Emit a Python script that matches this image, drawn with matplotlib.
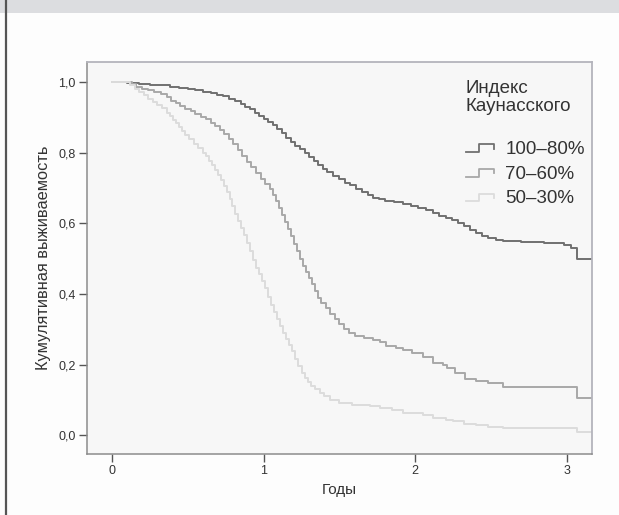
import matplotlib
matplotlib.use("Agg")
import matplotlib.pyplot as plt
from matplotlib.lines import Line2D
from matplotlib.patches import Rectangle
from matplotlib.legend_handler import HandlerBase

plt.rcParams['font.family'] = ['Liberation Sans', 'DejaVu Sans']

# ---- data (years, cumulative survival) ----
t_high = [0.00, 0.10, 0.18, 0.25, 0.32, 0.38, 0.44, 0.50, 0.55, 0.60, 0.65, 0.69,
          0.73, 0.77, 0.81, 0.85, 0.88, 0.91, 0.94, 0.97, 1.00, 1.03, 1.06, 1.09,
          1.12, 1.15, 1.18, 1.21, 1.24, 1.27, 1.30, 1.33, 1.36, 1.39, 1.42, 1.46,
          1.50, 1.54, 1.57, 1.61, 1.65, 1.69, 1.72, 1.76, 1.80, 1.86, 1.92, 1.97,
          2.02, 2.07, 2.12, 2.16, 2.20, 2.24, 2.28, 2.32, 2.36, 2.40, 2.44, 2.48,
          2.53, 2.58, 2.70, 2.85, 2.98, 3.03, 3.07, 3.17]
s_high = [1.000, 0.998, 0.996, 0.993, 0.991, 0.988, 0.985, 0.981, 0.977, 0.973, 0.969, 0.965,
          0.960, 0.954, 0.947, 0.939, 0.931, 0.923, 0.914, 0.905, 0.896, 0.888, 0.879, 0.868,
          0.856, 0.843, 0.831, 0.820, 0.810, 0.800, 0.789, 0.777, 0.765, 0.755, 0.745, 0.735,
          0.725, 0.716, 0.708, 0.699, 0.690, 0.680, 0.672, 0.668, 0.665, 0.660, 0.655, 0.650,
          0.645, 0.638, 0.630, 0.622, 0.616, 0.610, 0.601, 0.592, 0.582, 0.573, 0.565, 0.559,
          0.553, 0.549, 0.547, 0.545, 0.540, 0.530, 0.500, 0.500]

t_mid = [0.00, 0.13, 0.16, 0.20, 0.24, 0.28, 0.32, 0.36, 0.39, 0.42, 0.45, 0.48,
         0.52, 0.55, 0.59, 0.62, 0.65, 0.68, 0.71, 0.74, 0.77, 0.80, 0.83, 0.86,
         0.89, 0.92, 0.95, 0.98, 1.01, 1.04, 1.06, 1.08, 1.10, 1.12, 1.14, 1.16,
         1.18, 1.20, 1.22, 1.24, 1.26, 1.28, 1.30, 1.32, 1.34, 1.36, 1.38, 1.41,
         1.44, 1.47, 1.50, 1.53, 1.56, 1.60, 1.66, 1.72, 1.77, 1.81, 1.87, 1.92,
         1.98, 2.05, 2.12, 2.18, 2.21, 2.26, 2.33, 2.40, 2.48, 2.58, 3.07, 3.17]
s_mid = [1.000, 0.994, 0.988, 0.982, 0.977, 0.972, 0.966, 0.958, 0.948, 0.940, 0.932, 0.925,
         0.918, 0.911, 0.903, 0.895, 0.885, 0.875, 0.865, 0.853, 0.840, 0.825, 0.808, 0.790,
         0.775, 0.760, 0.743, 0.725, 0.712, 0.697, 0.680, 0.663, 0.645, 0.625, 0.605, 0.585,
         0.565, 0.543, 0.522, 0.500, 0.480, 0.462, 0.445, 0.428, 0.408, 0.390, 0.376, 0.362,
         0.345, 0.330, 0.315, 0.302, 0.290, 0.280, 0.275, 0.270, 0.265, 0.253, 0.248, 0.242,
         0.233, 0.223, 0.206, 0.198, 0.190, 0.176, 0.159, 0.155, 0.147, 0.138, 0.105, 0.105]

t_low = [0.00, 0.12, 0.15, 0.18, 0.21, 0.24, 0.27, 0.30, 0.33, 0.36, 0.38, 0.40,
         0.42, 0.44, 0.46, 0.48, 0.51, 0.54, 0.57, 0.60, 0.62, 0.64, 0.66, 0.68,
         0.70, 0.72, 0.74, 0.76, 0.78, 0.79, 0.81, 0.83, 0.85, 0.87, 0.89, 0.91,
         0.93, 0.95, 0.97, 0.99, 1.01, 1.03, 1.05, 1.07, 1.09, 1.11, 1.13, 1.15,
         1.17, 1.19, 1.21, 1.23, 1.25, 1.27, 1.29, 1.31, 1.34, 1.37, 1.40, 1.44,
         1.50, 1.58, 1.70, 1.77, 1.85, 1.92, 2.05, 2.12, 2.20, 2.25, 2.32, 2.40,
         2.48, 2.58, 3.07, 3.17]
s_low = [1.000, 0.992, 0.982, 0.973, 0.963, 0.953, 0.944, 0.936, 0.926, 0.914, 0.904, 0.894,
         0.884, 0.873, 0.862, 0.851, 0.838, 0.826, 0.814, 0.801, 0.790, 0.778, 0.765, 0.752,
         0.738, 0.722, 0.705, 0.688, 0.670, 0.650, 0.628, 0.607, 0.587, 0.567, 0.545, 0.522,
         0.498, 0.475, 0.456, 0.438, 0.418, 0.392, 0.368, 0.348, 0.330, 0.310, 0.290, 0.272,
         0.255, 0.238, 0.215, 0.195, 0.177, 0.163, 0.150, 0.140, 0.130, 0.120, 0.110, 0.100,
         0.092, 0.087, 0.082, 0.078, 0.072, 0.063, 0.058, 0.050, 0.044, 0.040, 0.032, 0.028,
         0.024, 0.020, 0.010, 0.010]

groups = ['100–80%', '70–60%', '50–30%']
colors = ['#707070', '#a8a8a8', '#dcdcdc']
x_ticks = [0, 1, 2, 3]
y_ticks = [0.0, 0.2, 0.4, 0.6, 0.8, 1.0]
y_ticklabels = ['0,0', '0,2', '0,4', '0,6', '0,8', '1,0']


# legend handle drawn as a small step, like in SPSS
class StepHandler(HandlerBase):
    def create_artists(self, legend, orig_handle, xdescent, ydescent,
                       width, height, fontsize, trans):
        xs = [0, 0.45, 0.45, 1.0, 1.0]
        ys = [0.15, 0.15, 0.75, 0.75, 0.4]
        ln = Line2D([x * width - xdescent for x in xs],
                    [y * height - ydescent for y in ys],
                    color=orig_handle.get_color(), lw=1.3, transform=trans)
        return [ln]


W, H = 619, 515
fig = plt.figure(figsize=(W / 100, H / 100), dpi=100, facecolor='#fdfdfd')

# grey header strip and the left frame line of the page
fig.patches.append(Rectangle((0, 1 - 13 / H), 1, 13 / H, transform=fig.transFigure,
                             facecolor='#dcdde0', edgecolor='none'))
fig.lines.append(Line2D([6 / W, 6 / W], [0, 1], transform=fig.transFigure,
                        color='#555555', lw=1.6))

ax = fig.add_axes([86.7 / W, (H - 454) / H, (592 - 86.7) / W, (454 - 62) / H])
ax.set_facecolor('#f7f7f7')

lines = []
for t, s, c, g in zip([t_high, t_mid, t_low], [s_high, s_mid, s_low], colors, groups):
    l, = ax.step(t, s, where='post', color=c, lw=1.4, label=g)
    lines.append(l)

ax.set_xlim(-0.167, 3.166)
ax.set_ylim(-0.053, 1.0575)
ax.set_xticks(x_ticks)
ax.set_yticks(y_ticks)
ax.set_yticklabels(y_ticklabels)
ax.tick_params(direction='out', length=6, width=1, color='#555555',
               labelsize=9, labelcolor='#333333', pad=2)

for side in ['left', 'bottom']:
    ax.spines[side].set_color('#8c8c8c')
    ax.spines[side].set_linewidth(1.1)
for side in ['top', 'right']:
    ax.spines[side].set_color('#b4b4bc')
    ax.spines[side].set_linewidth(1.3)

ax.set_xlabel('Годы', fontsize=11, color='#333333', labelpad=4)
ax.set_ylabel('Кумулятивная выживаемость', fontsize=11.8, color='#333333', labelpad=5)

leg = ax.legend(handles=lines, title='Индекс\nКаунасского\n ', loc='upper left',
                bbox_to_anchor=(449 / W, 1 - 63 / H), bbox_transform=fig.transFigure,
                frameon=False, fontsize=13.5, title_fontsize=13.5,
                handlelength=1.5, handletextpad=0.6, labelspacing=0.4,
                alignment='left', handler_map={Line2D: StepHandler()})
for txt in leg.get_texts():
    txt.set_color('#333333')
leg.get_title().set_color('#333333')
leg.get_title().set_linespacing(1.1)

fig.savefig('out.png', dpi=100, facecolor=fig.get_facecolor())
